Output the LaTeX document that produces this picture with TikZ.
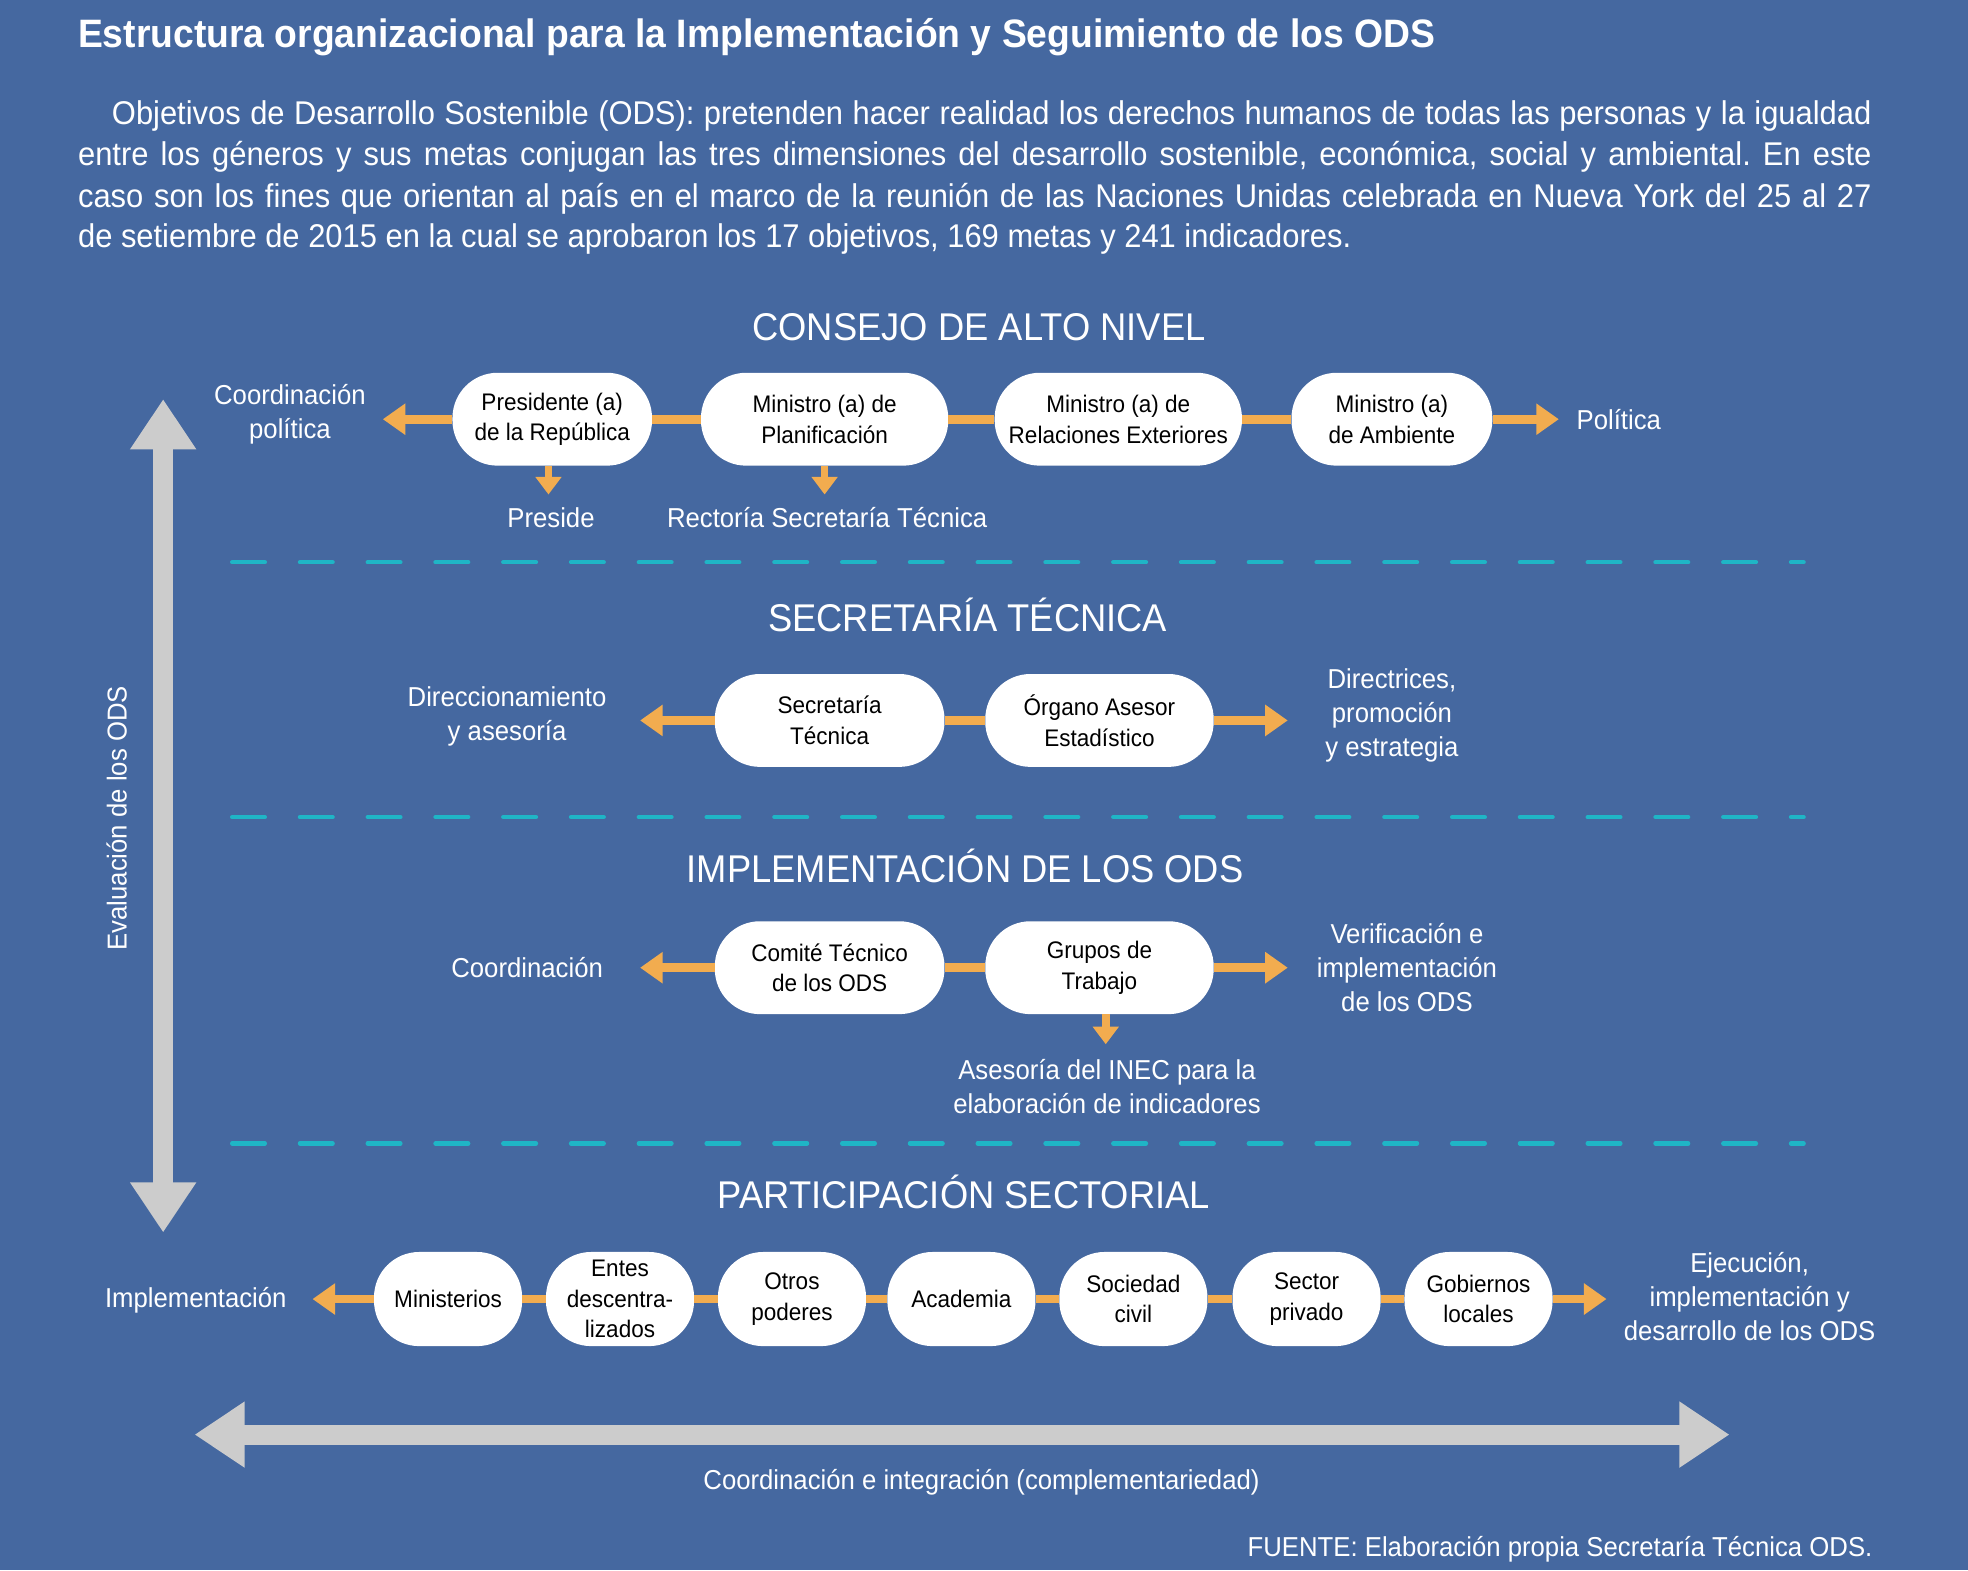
\documentclass[tikz,border=0pt]{standalone}
\usepackage{fontspec}
\setmainfont{Liberation Sans}[FakeStretch=0.94]
\usetikzlibrary{arrows.meta}
\definecolor{bgblue}{RGB}{69,104,160}
\definecolor{odsorange}{RGB}{242,172,79}
\definecolor{odsteal}{RGB}{31,181,198}
\definecolor{odsgray}{RGB}{204,204,204}
\frenchspacing
\begin{document}
\begin{tikzpicture}[x=1pt,y=-1pt,
  pill/.style={fill=white, rounded corners=36pt, minimum height=74pt, inner sep=0pt, align=center, font=\fontsize{19.1}{24.5}\selectfont, text=black},
  lbl/.style={text=white, align=center, font=\fontsize{21.8}{27}\selectfont, inner sep=0pt},
  hdr/.style={text=white, font=\fontsize{30.8}{34}\selectfont, inner sep=0pt, anchor=base},
  bodyline/.style={text=white, font=\fontsize{26.2}{32}\selectfont, inner sep=0pt, anchor=base west},
  link/.style={draw=odsorange, line width=7pt},
  outarrow/.style={link, -{Triangle[length=18pt,width=24pt]}},
  downarrow/.style={draw=odsorange, line width=6pt, -{Triangle[length=14pt,width=20pt]}},
  sepline/.style={draw=odsteal, line width=3.5pt, dash pattern=on 26pt off 28pt, line cap=round},
  bigarrow/.style={draw=odsgray, line width=16pt, {Triangle[length=40pt,width=50pt]}-{Triangle[length=40pt,width=50pt]}},
]
\useasboundingbox (0,0) rectangle (1568,1251);
\fill[bgblue] (0,0) rectangle (1568,1251);

% title and intro
\node[anchor=base west, text=white, inner sep=0pt, font=\bfseries\fontsize{31.6}{34}\selectfont] (title) at (62,38) {Estructura organizacional para la Implementación y Seguimiento de los ODS};
\node[bodyline] (b1) at (89,99) {\makebox[1402pt][s]{Objetivos de Desarrollo Sostenible (ODS): pretenden hacer realidad los derechos humanos de todas las personas y la igualdad}};
\node[bodyline] (b2) at (62,132) {\makebox[1429pt][s]{entre los géneros y sus metas conjugan las tres dimensiones del desarrollo sostenible, económica, social y ambiental. En este}};
\node[bodyline] (b3) at (62,165) {\makebox[1429pt][s]{caso son los fines que orientan al país en el marco de la reunión de las Naciones Unidas celebrada en Nueva York del 25 al 27}};
\node[bodyline] (b4) at (62,197) {de setiembre de 2015 en la cual se aprobaron los 17 objetivos, 169 metas y 241 indicadores.};

% separators
\coordinate (s1a) at (185,448); \coordinate (s1b) at (1437,448);
\coordinate (s2a) at (185,651); \coordinate (s2b) at (1437,651);
\coordinate (s3a) at (185,911); \coordinate (s3b) at (1437,911);
\draw[sepline] (s1a) -- (s1b);
\draw[sepline] (s2a) -- (s2b);
\draw[sepline] (s3a) -- (s3b);

% big gray arrows
\coordinate (vt) at (130,318); \coordinate (vb) at (130,982);
\draw[bigarrow] (vt) -- (vb);
\coordinate (hl) at (155,1143); \coordinate (hr) at (1378,1143);
\draw[bigarrow] (hl) -- (hr);
\node[lbl, rotate=90] (eva) at (93,652) {Evaluación de los ODS};
\node[lbl, anchor=base] (cei) at (782,1187) {Coordinación e integración (complementariedad)};
\node[lbl, anchor=base east] (fte) at (1492,1240) {FUENTE: Elaboración propia Secretaría Técnica ODS.};

% headers
\node[hdr] (h1) at (780,271) {CONSEJO DE ALTO NIVEL};
\node[hdr] (h2) at (771,503) {SECRETARÍA TÉCNICA};
\node[hdr] (h3) at (769,703) {IMPLEMENTACIÓN DE LOS ODS};
\node[hdr] (h4) at (768,963) {PARTICIPACIÓN SECTORIAL};

% row 1
\node[pill, minimum width=159pt] (p1) at (440,334) {Presidente (a)\\de la República};
\node[pill, minimum width=197pt] (p2) at (657,334) {Ministro (a) de\\Planificación};
\node[pill, minimum width=197pt] (p3) at (891,334) {Ministro (a) de\\Relaciones Exteriores};
\node[pill, minimum width=160pt] (p4) at (1109,334) {Ministro (a)\\de Ambiente};
\coordinate (l1) at (305,334); \coordinate (r1) at (1242,334);
\draw[link] (p1) -- (p2);
\draw[link] (p2) -- (p3);
\draw[link] (p3) -- (p4);
\draw[outarrow] (p1) -- (l1);
\draw[outarrow] (p4) -- (r1);
\coordinate (d1) at (437,394); \coordinate (d2) at (657,394);
\draw[downarrow] ([xshift=-3pt]p1.south) -- (d1);
\draw[downarrow] (p2.south) -- (d2);
\node[lbl] (cp) at (231,330) {Coordinación\\política};
\node[lbl, anchor=base west] (pol) at (1256,342) {Política};
\node[lbl, anchor=base] (pres) at (439,420) {Preside};
\node[lbl, anchor=base] (rect) at (659,420) {Rectoría Secretaría Técnica};

% row 2
\node[pill, minimum width=183pt] (st1) at (661,574) {Secretaría\\Técnica};
\node[pill, minimum width=182pt] (st2) at (876,574) {Órgano Asesor\\Estadístico};
\coordinate (l2) at (510,574); \coordinate (r2) at (1026,574);
\draw[link] (st1) -- (st2);
\draw[outarrow] (st1) -- (l2);
\draw[outarrow] (st2) -- (r2);
\node[lbl] (dir) at (404,571) {Direccionamiento\\y asesoría};
\node[lbl] (dps) at (1109,570) {Directrices,\\promoción\\y estrategia};

% row 3
\node[pill, minimum width=183pt] (im1) at (661,771) {Comité Técnico\\de los ODS};
\node[pill, minimum width=182pt] (im2) at (876,771) {Grupos de\\Trabajo};
\coordinate (l3) at (510,771); \coordinate (r3) at (1026,771);
\draw[link] (im1) -- (im2);
\draw[outarrow] (im1) -- (l3);
\draw[outarrow] (im2) -- (r3);
\coordinate (d3) at (881,832);
\draw[downarrow] ([xshift=5pt]im2.south) -- (d3);
\node[lbl, anchor=base] (coo) at (420,779) {Coordinación};
\node[lbl] (ver) at (1121,771) {Verificación e\\implementación\\de los ODS};
\node[lbl] (ase) at (882,866) {Asesoría del INEC para la\\elaboración de indicadores};

% row 4
\node[pill, minimum width=118pt, minimum height=75pt] (q1) at (357,1035) {Ministerios};
\node[pill, minimum width=118pt, minimum height=75pt] (q2) at (494,1035) {Entes\\descentra-\\lizados};
\node[pill, minimum width=118pt, minimum height=75pt] (q3) at (631,1035) {Otros\\poderes};
\node[pill, minimum width=118pt, minimum height=75pt] (q4) at (766,1035) {Academia};
\node[pill, minimum width=118pt, minimum height=75pt] (q5) at (903,1035) {Sociedad\\civil};
\node[pill, minimum width=118pt, minimum height=75pt] (q6) at (1041,1035) {Sector\\privado};
\node[pill, minimum width=118pt, minimum height=75pt] (q7) at (1178,1035) {Gobiernos\\locales};
\coordinate (l4) at (249,1035); \coordinate (r4) at (1280,1035);
\draw[link] (q1) -- (q2);
\draw[link] (q2) -- (q3);
\draw[link] (q3) -- (q4);
\draw[link] (q4) -- (q5);
\draw[link] (q5) -- (q6);
\draw[link] (q6) -- (q7);
\draw[outarrow] (q1) -- (l4);
\draw[outarrow] (q7) -- (r4);
\node[lbl, anchor=base] (imp) at (156,1042) {Implementación};
\node[lbl] (eje) at (1394,1033) {Ejecución,\\implementación y\\desarrollo de los ODS};
\end{tikzpicture}
\end{document}
